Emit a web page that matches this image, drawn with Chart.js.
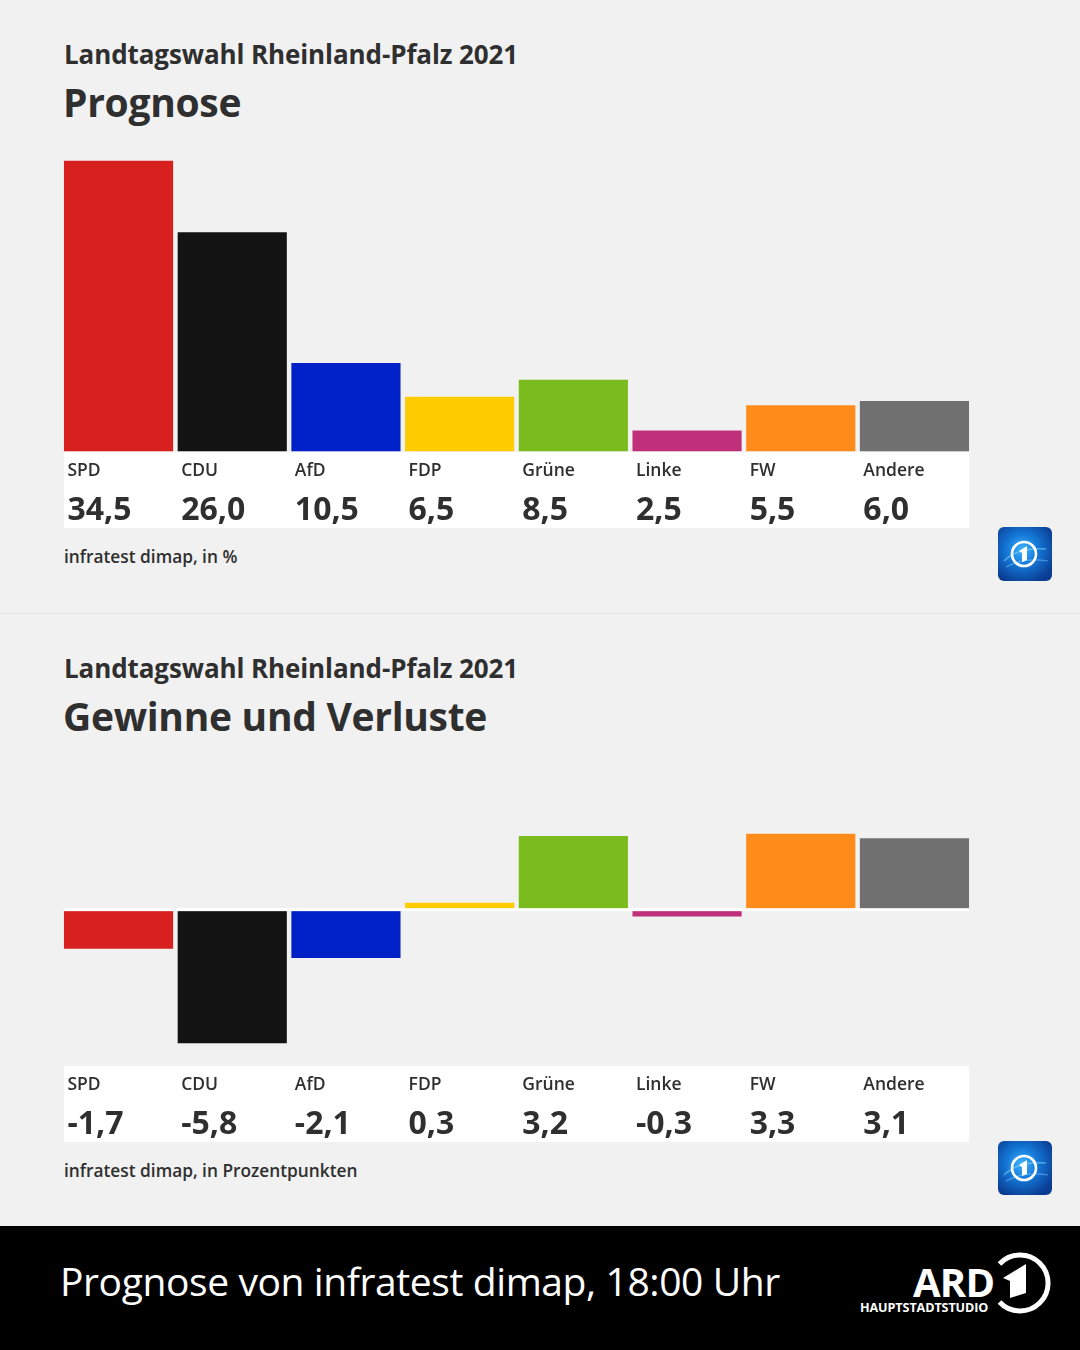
<!DOCTYPE html>
<html lang="de">
<head>
<meta charset="utf-8">
<script src="https://cdn.jsdelivr.net/npm/chart.js@4/dist/chart.umd.min.js"></script>
<style>
  html, body { margin:0; padding:0; }
  body { width:1080px; height:1350px; position:relative; overflow:hidden; background:#f1f1f1; font-family:"Open Sans", "Noto Sans", sans-serif; color:#2f2f2f; }
  .panel { position:absolute; left:0; width:1080px; height:613px; background:#f1f1f1; }
  .sep { position:absolute; left:0; width:1080px; top:613px; height:1px; background:#e2e2e2; }
  .t1 { position:absolute; left:64px; font-weight:700; font-size:26px; line-height:1; letter-spacing:-0.1px; white-space:nowrap; }
  .t2 { position:absolute; left:63px; font-weight:700; font-size:39px; line-height:1; letter-spacing:-0.3px; white-space:nowrap; }
  .src { position:absolute; left:64px; font-weight:600; font-size:17.3px; line-height:1; white-space:nowrap; }
  canvas { position:absolute; left:0; }
  .logo { position:absolute; left:998px; width:54px; height:54px; }
  .footer { position:absolute; left:0; top:1226px; width:1080px; height:124px; background:#000; }
  .ftext { position:absolute; left:60px; top:1261px; color:#fff; font-size:39px; line-height:1; white-space:nowrap; font-weight:400; letter-spacing:-0.4px; }
  .ard { position:absolute; left:913px; top:1262px; color:#fff; font-weight:700; font-size:40px; line-height:1; letter-spacing:-0.8px; }
  .hs { position:absolute; left:860px; top:1302px; color:#fff; font-weight:700; font-size:12.6px; line-height:1; letter-spacing:-0.1px; }
</style>
</head>
<body>
<div class="panel" style="top:0"></div>
<div class="sep"></div>
<div class="panel" style="top:614px"></div>

<div class="t1" style="top:41px">Landtagswahl Rheinland-Pfalz 2021</div>
<div class="t2" style="top:82px">Prognose</div>
<div class="src" style="top:548px">infratest dimap, in %</div>

<div class="t1" style="top:655px">Landtagswahl Rheinland-Pfalz 2021</div>
<div class="t2" style="top:696px">Gewinne und Verluste</div>
<div class="src" style="top:1162px">infratest dimap, in Prozentpunkten</div>

<canvas id="c1" width="1080" height="420" style="top:130px;width:1080px;height:420px"></canvas>
<canvas id="c2" width="1080" height="420" style="top:744px;width:1080px;height:420px"></canvas>

<svg class="logo" style="top:527px" viewBox="0 0 54 54">
  <defs>
    <radialGradient id="g1" cx="0.45" cy="0.42" r="0.65">
      <stop offset="0" stop-color="#3fb4ff"/>
      <stop offset="0.45" stop-color="#1477d6"/>
      <stop offset="1" stop-color="#0a3c92"/>
    </radialGradient>
  </defs>
  <rect x="0" y="0" width="54" height="54" rx="6" fill="url(#g1)"/>
  <path d="M6 34 Q20 20 48 22" stroke="#7fd0ff" stroke-width="1.5" fill="none" opacity="0.6"/>
  <path d="M8 40 Q26 30 50 34" stroke="#7fd0ff" stroke-width="1.2" fill="none" opacity="0.5"/>
  <circle cx="26" cy="27" r="12" stroke="#ffffff" stroke-width="2.6" fill="none"/>
  <polygon points="21,24 29,19 29,33 24,35 24,26" fill="#ffffff"/>
</svg>
<svg class="logo" style="top:1141px" viewBox="0 0 54 54">
  <rect x="0" y="0" width="54" height="54" rx="6" fill="url(#g1)"/>
  <path d="M6 34 Q20 20 48 22" stroke="#7fd0ff" stroke-width="1.5" fill="none" opacity="0.6"/>
  <path d="M8 40 Q26 30 50 34" stroke="#7fd0ff" stroke-width="1.2" fill="none" opacity="0.5"/>
  <circle cx="26" cy="27" r="12" stroke="#ffffff" stroke-width="2.6" fill="none"/>
  <polygon points="21,24 29,19 29,33 24,35 24,26" fill="#ffffff"/>
</svg>

<div class="footer"></div>
<div class="ftext">Prognose von infratest dimap, 18:00 Uhr</div>
<div class="ard">ARD</div>
<div class="hs">HAUPTSTADTSTUDIO</div>
<svg style="position:absolute;left:990px;top:1251px" width="62" height="64" viewBox="0 0 62 64">
  <path d="M 9.5 13 A 28 28 0 1 1 9.5 51" stroke="#fff" stroke-width="5" fill="none"/>
  <polygon points="13,27 36,13 36,42 20,47 20,30" fill="#fff"/>
</svg>

<script>
const categories = ['SPD','CDU','AfD','FDP','Grüne','Linke','FW','Andere'];
const prognoseValues = [34.5, 26.0, 10.5, 6.5, 8.5, 2.5, 5.5, 6.0];
const changeValues = [-1.7, -5.8, -2.1, 0.3, 3.2, -0.3, 3.3, 3.1];
const partyColors = ['#d8201f','#131313','#0021c8','#ffcc00','#7abb1e','#c0307a','#ff8c1a','#707070'];

function fmt(v){ return v.toFixed(1).replace('.', ','); }

const labelPlugin = {
  id: 'partyLabels',
  afterDatasetsDraw(chart, args, opts) {
    const ctx = chart.ctx;
    const meta = chart.getDatasetMeta(0);
    const first = meta.data[0], last = meta.data[meta.data.length-1];
    const left = first.x - first.width/2;
    const right = last.x + last.width/2;
    ctx.save();
    if (opts.zeroLine) {
      const y0 = chart.scales.y.getPixelForValue(0);
      ctx.fillStyle = '#ffffff';
      ctx.fillRect(left, y0 - 1.5, right - left, 3);
    }
    const top = opts.boxTop;
    ctx.fillStyle = '#ffffff';
    ctx.fillRect(left, top, right - left, 76);
    ctx.fillStyle = '#2f2f2f';
    ctx.textBaseline = 'middle';
    ctx.textAlign = 'left';
    const data = chart.data.datasets[0].data;
    meta.data.forEach((bar, i) => {
      const x = bar.x - bar.width/2 + 3.5;
      ctx.font = '600 17.5px "Open Sans", "Noto Sans", sans-serif';
      ctx.fillText(chart.data.labels[i], x, top + 19);
      ctx.font = '700 32px "Open Sans", "Noto Sans", sans-serif';
      ctx.fillText(fmt(data[i]), x, top + 59);
    });
    ctx.restore();
  }
};

function makeChart(id, values, yMin, yMax, padding, boxTop, zeroLine) {
  return new Chart(document.getElementById(id), {
    type: 'bar',
    data: {
      labels: categories,
      datasets: [{
        data: values,
        backgroundColor: partyColors,
        borderWidth: 0,
        barPercentage: 0.96,
        categoryPercentage: 1.0
      }]
    },
    options: {
      responsive: false,
      animation: false,
      devicePixelRatio: 1,
      layout: { padding: padding },
      plugins: {
        legend: { display: false },
        tooltip: { enabled: false },
        partyLabels: { boxTop: boxTop, zeroLine: zeroLine }
      },
      scales: {
        x: { display: false },
        y: { display: false, min: yMin, max: yMax }
      }
    },
    plugins: [labelPlugin]
  });
}

makeChart('c1', prognoseValues, 0, 37,
  { left: 61.7, right: 108.7, top: 9.6, bottom: 98.5 }, 322, false);
makeChart('c2', changeValues, -6.75, 4,
  { left: 61.7, right: 108.7, top: 73.6, bottom: 99 }, 322, true);
</script>
</body>
</html>
